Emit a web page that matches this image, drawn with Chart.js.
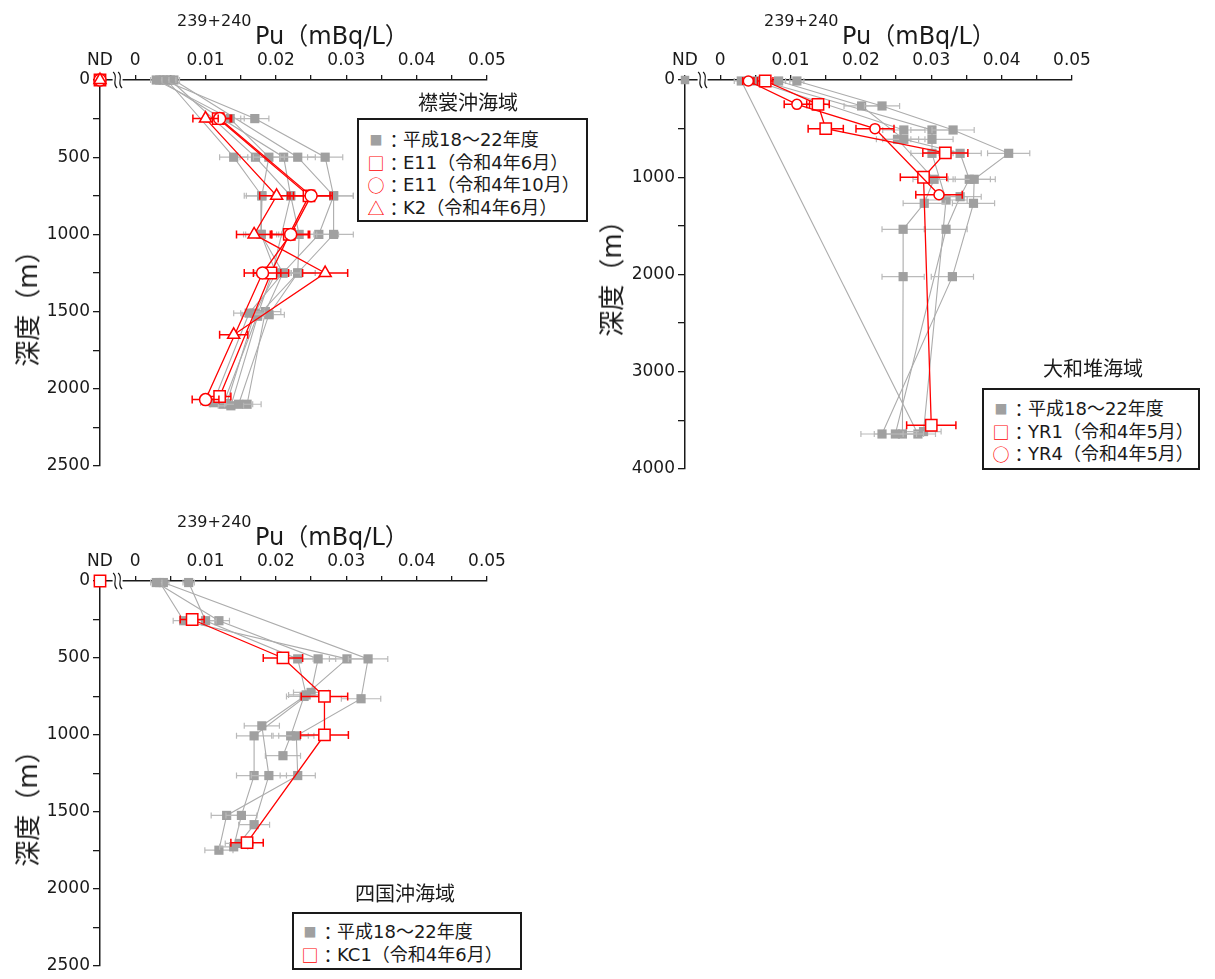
<!DOCTYPE html>
<html><head><meta charset="utf-8">
<script src="https://cdn.jsdelivr.net/npm/chart.js@4.4.0/dist/chart.umd.min.js"></script>
<style>
html,body{margin:0;padding:0;background:#fff;}
body{width:1215px;height:979px;position:relative;overflow:hidden;font-family:'DejaVu Sans','Noto Sans CJK JP',sans-serif;color:#1a1a1a;text-spacing-trim:space-all;}
canvas{position:absolute;}
.t{position:absolute;white-space:nowrap;line-height:1;}
.sup{font-size:16px;}
.pu{font-size:24px;}
.ytitle{position:absolute;font-size:26px;white-space:nowrap;line-height:1;transform:translate(-50%,-50%) rotate(-90deg);}
.region{position:absolute;font-size:20px;line-height:1;white-space:nowrap;font-family:'Noto Sans CJK JP',sans-serif;}
.legend{position:absolute;border:2px solid #1a1a1a;box-sizing:border-box;background:#fff;font-size:18px;}
.row{display:flex;align-items:center;height:22.7px;white-space:nowrap;line-height:22.7px;}
.mk{flex:0 0 18px;text-align:center;font-family:'Noto Sans CJK JP',sans-serif;font-size:17px;line-height:22.7px;}
.cl{flex:0 0 18px;text-align:center;font-family:'Noto Sans CJK JP',sans-serif;line-height:22.7px;}
.g{color:#a0a0a0;font-size:13px;}
.r{color:#ff0000;}
</style>
</head><body>
<canvas id="c1" width="600" height="490" style="left:0;top:0"></canvas>
<canvas id="c2" width="630" height="490" style="left:585px;top:0"></canvas>
<canvas id="c3" width="600" height="479" style="left:0;top:500px"></canvas>

<div class="t sup" style="left:177px;top:13px">239+240</div>
<div class="t pu" style="left:255px;top:24px">Pu（mBq/L）</div>
<div class="t sup" style="left:764px;top:13px">239+240</div>
<div class="t pu" style="left:842px;top:24px">Pu（mBq/L）</div>
<div class="t sup" style="left:177px;top:514px">239+240</div>
<div class="t pu" style="left:255px;top:525px">Pu（mBq/L）</div>

<div class="ytitle" style="left:28px;top:302px">深度（m）</div>
<div class="ytitle" style="left:612px;top:272px">深度（m）</div>
<div class="ytitle" style="left:28px;top:802px">深度（m）</div>

<div class="region" id="r1" style="left:418px;top:92px"></div>
<div class="region" id="r2" style="left:1043px;top:358px"></div>
<div class="region" id="r3" style="left:355px;top:883px"></div>

<div class="legend" style="left:357px;top:118px;width:231px;height:104px;padding:9px 0 0 8px">
  <div class="row"><span class="mk g">■</span><span class="cl">：</span><span>平成18～22年度</span></div>
  <div class="row"><span class="mk r">□</span><span class="cl">：</span><span>E11（令和4年6月）</span></div>
  <div class="row"><span class="mk r">○</span><span class="cl">：</span><span>E11（令和4年10月）</span></div>
  <div class="row"><span class="mk r">△</span><span class="cl">：</span><span>K2（令和4年6月）</span></div>
</div>
<div class="legend" style="left:982px;top:388px;width:218px;height:82px;padding:8px 0 0 8px">
  <div class="row"><span class="mk g">■</span><span class="cl">：</span><span>平成18～22年度</span></div>
  <div class="row"><span class="mk r">□</span><span class="cl">：</span><span>YR1（令和4年5月）</span></div>
  <div class="row"><span class="mk r">○</span><span class="cl">：</span><span>YR4（令和4年5月）</span></div>
</div>
<div class="legend" style="left:292px;top:912px;width:230px;height:58px;padding:7px 0 0 7px">
  <div class="row"><span class="mk g">■</span><span class="cl">：</span><span>平成18～22年度</span></div>
  <div class="row"><span class="mk r">□</span><span class="cl">：</span><span>KC1（令和4年6月）</span></div>
</div>

<script>
// ---------- axis ticks ----------
const ND_X = -0.005;
const xTickValues = [-0.005, 0, 0.005, 0.01, 0.015, 0.02, 0.025, 0.03, 0.035, 0.04, 0.045, 0.05];
const xTickLabels = ['ND', '0', '', '0.01', '', '0.02', '', '0.03', '', '0.04', '', '0.05'];
const y2500Ticks = [0, 250, 500, 750, 1000, 1250, 1500, 1750, 2000, 2250, 2500];
const y2500Labels = ['0', '', '500', '', '1000', '', '1500', '', '2000', '', '2500'];
const y4000Ticks = [0, 500, 1000, 1500, 2000, 2500, 3000, 3500, 4000];
const y4000Labels = ['0', '', '1000', '', '2000', '', '3000', '', '4000'];

const regionNames = ['襟裳沖海域', '大和堆海域', '四国沖海域'];

// ---------- 襟裳沖海域 ----------
const erimoGrayDepth = [
  [0, 250, 500, 750, 1000, 1250, 1510, 2090],
  [0, 250, 500, 750, 1000, 1250, 1520, 2100],
  [0, 500, 750, 1000, 1250, 1530, 2110],
  [0, 500, 750, 1000, 1250, 1500, 2100],
  [0, 500, 750, 1250, 1520, 2100],
  [0, 500, 750, 1000, 1250, 1510, 2095]
];
const erimoGrayPu = [
  [0.0030, 0.0135, 0.0190, 0.0180, 0.0179, 0.0210, 0.0162, 0.0111],
  [0.0040, 0.0170, 0.0270, 0.0282, 0.0282, 0.0231, 0.0190, 0.0147],
  [0.0050, 0.0171, 0.0221, 0.0233, 0.0231, 0.0174, 0.0136],
  [0.0055, 0.0231, 0.0282, 0.0261, 0.0210, 0.0185, 0.0159],
  [0.0035, 0.0211, 0.0221, 0.0195, 0.0174, 0.0125],
  [0.0045, 0.0140, 0.0180, 0.0179, 0.0200, 0.0170, 0.0130]
];
const erimoGrayErr = [
  [0.0008, 0.0020, 0.0022, 0.0025, 0.0025, 0.0025, 0.0022, 0.0018],
  [0.0008, 0.0020, 0.0025, 0.0028, 0.0028, 0.0025, 0.0022, 0.0020],
  [0.0008, 0.0022, 0.0025, 0.0025, 0.0025, 0.0022, 0.0018],
  [0.0008, 0.0025, 0.0028, 0.0028, 0.0025, 0.0022, 0.0020],
  [0.0008, 0.0022, 0.0025, 0.0025, 0.0022, 0.0018],
  [0.0008, 0.0020, 0.0022, 0.0022, 0.0022, 0.0020, 0.0018]
];
const erimoE11JunDepth = [250, 750, 1000, 1250, 2050];
const erimoE11JunPu = [0.0118, 0.0247, 0.0219, 0.0193, 0.0120];
const erimoE11JunErr = [0.0017, 0.0030, 0.0027, 0.0025, 0.0016];
const erimoE11OctDepth = [250, 750, 1000, 1250, 2070];
const erimoE11OctPu = [0.0120, 0.0250, 0.0221, 0.0181, 0.0100];
const erimoE11OctErr = [0.0017, 0.0030, 0.0027, 0.0026, 0.0019];
const erimoK2Depth = [250, 750, 1000, 1250, 1650];
const erimoK2Pu = [0.0100, 0.0201, 0.0169, 0.0270, 0.0140];
const erimoK2Err = [0.0018, 0.0024, 0.0025, 0.0032, 0.0020];

// ---------- 大和堆海域 ----------
const yamatoGrayDepth = [
  [10, 267, 514, 754, 1021, 1268, 2022, 3640],
  [10, 267, 610, 754, 1021, 1200, 1535, 3640],
  [10, 514, 610, 1021, 1268, 1535, 2022, 3640],
  [10, 514, 610, 754, 1234, 3615],
  [10, 3640]
];
const yamatoGrayPu = [
  [0.0109, 0.0230, 0.0331, 0.0410, 0.0361, 0.0360, 0.0330, 0.0230],
  [0.0083, 0.0201, 0.0261, 0.0341, 0.0354, 0.0341, 0.0321, 0.0249],
  [0.0050, 0.0261, 0.0252, 0.0304, 0.0290, 0.0260, 0.0260, 0.0259],
  [0.0060, 0.0301, 0.0301, 0.0301, 0.0321, 0.0289],
  [0.0030, 0.0281]
];
const yamatoGrayErr = [
  [0.0010, 0.0025, 0.0030, 0.0030, 0.0030, 0.0030, 0.0030, 0.0030],
  [0.0010, 0.0025, 0.0030, 0.0030, 0.0030, 0.0030, 0.0030, 0.0030],
  [0.0010, 0.0030, 0.0030, 0.0030, 0.0030, 0.0030, 0.0030, 0.0030],
  [0.0010, 0.0030, 0.0030, 0.0030, 0.0030, 0.0025],
  [0.0010, 0.0025]
];
const yamatoGrayNDDepth = [0];
const yamatoYR1Depth = [10, 250, 500, 750, 1000, 3550];
const yamatoYR1Pu = [0.0064, 0.0139, 0.0150, 0.0320, 0.0289, 0.0300];
const yamatoYR1Err = [0.0011, 0.0016, 0.0025, 0.0032, 0.0033, 0.0035];
const yamatoYR4Depth = [10, 250, 500, 1180];
const yamatoYR4Pu = [0.0040, 0.0109, 0.0220, 0.0311];
const yamatoYR4Err = [0.0008, 0.0018, 0.0027, 0.0033];

// ---------- 四国沖海域 ----------
const shikokuGrayDepth = [
  [10, 258, 506, 740, 941, 1264, 1583, 1705],
  [10, 258, 506, 724, 1006, 1264, 1523, 1727],
  [10, 506, 765, 1006, 1264, 1523, 1749],
  [10, 258, 506, 750, 1006, 1135]
];
const shikokuGrayPu = [
  [0.0076, 0.0100, 0.0231, 0.0243, 0.0180, 0.0190, 0.0169, 0.0148],
  [0.0030, 0.0119, 0.0260, 0.0250, 0.0169, 0.0169, 0.0151, 0.0140],
  [0.0040, 0.0331, 0.0321, 0.0229, 0.0231, 0.0130, 0.0119],
  [0.0035, 0.0069, 0.0301, 0.0240, 0.0221, 0.0210]
];
const shikokuGrayErr = [
  [0.0008, 0.0015, 0.0022, 0.0025, 0.0025, 0.0025, 0.0022, 0.0020],
  [0.0008, 0.0015, 0.0025, 0.0025, 0.0025, 0.0025, 0.0022, 0.0020],
  [0.0008, 0.0028, 0.0028, 0.0025, 0.0025, 0.0022, 0.0020],
  [0.0008, 0.0015, 0.0025, 0.0025, 0.0025, 0.0025]
];
const shikokuKC1Depth = [250, 500, 750, 1000, 1700];
const shikokuKC1Pu = [0.0081, 0.0210, 0.0269, 0.0269, 0.0159];
const shikokuKC1Err = [0.0017, 0.0028, 0.0033, 0.0034, 0.0023];

// ---------- styling & helpers ----------
const FONT = "'DejaVu Sans','Noto Sans CJK JP',sans-serif";
const INK = '#1a1a1a';
const RED = '#ff0000';
const GRAY_PT = '#a0a0a0';
const GRAY_LN = '#acacac';

function pts(xs, ys) { return xs.map((x, i) => ({ x: x, y: ys[i] })); }

function grayProfiles(depths, pus, errs) {
  return depths.map((d, k) => ({
    data: pts(pus[k], d), errors: errs[k], errColor: '#bababa', errWidth: 1.2, cap: 3,
    showLine: true, borderColor: GRAY_LN, borderWidth: 1.1, tension: 0,
    pointStyle: 'rect', pointRadius: 6.5, pointBackgroundColor: GRAY_PT, pointBorderWidth: 0,
    clip: false
  }));
}
function redSeries(pu, depth, err, style, radius) {
  return {
    data: pts(pu, depth), errors: err, errColor: RED, errWidth: 1.5, cap: 4,
    showLine: true, borderColor: RED, borderWidth: 1.3, tension: 0,
    pointStyle: style, pointRadius: radius, pointBackgroundColor: '#ffffff',
    pointBorderColor: RED, pointBorderWidth: 1.5, clip: false
  };
}
function ndPoint(depth, style, radius, fill, stroke) {
  return {
    data: depth.map(d => ({ x: ND_X, y: d })), showLine: false,
    pointStyle: style, pointRadius: radius, pointBackgroundColor: fill,
    pointBorderColor: stroke, pointBorderWidth: stroke ? 1.5 : 0, clip: false
  };
}

const errorBarPlugin = {
  id: 'errorBars',
  beforeDatasetDraw(chart, args) {
    const ds = chart.data.datasets[args.index];
    if (!ds.errors) return;
    const ctx = chart.ctx, xs = chart.scales.x, ys = chart.scales.y;
    ctx.save();
    ctx.strokeStyle = ds.errColor;
    ctx.lineWidth = ds.errWidth;
    ds.data.forEach((p, i) => {
      const e = ds.errors[i];
      if (!e) return;
      const y = ys.getPixelForValue(p.y);
      const x1 = xs.getPixelForValue(p.x - e), x2 = xs.getPixelForValue(p.x + e);
      ctx.beginPath();
      ctx.moveTo(x1, y); ctx.lineTo(x2, y);
      ctx.moveTo(x1, y - ds.cap); ctx.lineTo(x1, y + ds.cap);
      ctx.moveTo(x2, y - ds.cap); ctx.lineTo(x2, y + ds.cap);
      ctx.stroke();
    });
    ctx.restore();
  }
};

const axisBreakPlugin = {
  id: 'axisBreak',
  afterDraw(chart) {
    const ctx = chart.ctx, xs = chart.scales.x;
    const y = chart.chartArea.top;
    const cx = xs.getPixelForValue(-0.0025);
    ctx.save();
    ctx.fillStyle = '#ffffff';
    ctx.fillRect(cx - 5, y - 3, 10, 6);
    ctx.strokeStyle = INK;
    ctx.lineWidth = 1.2;
    [-2.5, 2.5].forEach(o => {
      const x = cx + o;
      ctx.beginPath();
      ctx.moveTo(x - 2, y - 8);
      ctx.bezierCurveTo(x + 4, y - 3, x - 4, y + 3, x + 2, y + 8);
      ctx.stroke();
    });
    ctx.restore();
  }
};

function makeChart(id, datasets, yMax, yTicks, yLabels, padding, xAxisH, yAxisW) {
  return new Chart(document.getElementById(id), {
    type: 'scatter',
    data: { datasets: datasets },
    options: {
      responsive: false, animation: false, events: [],
      layout: { padding: padding },
      plugins: { legend: { display: false }, tooltip: { enabled: false } },
      scales: {
        x: {
          type: 'linear', position: 'top', min: ND_X, max: 0.05,
          afterFit: s => { s.height = xAxisH; },
          afterBuildTicks: s => { s.ticks = xTickValues.map(v => ({ value: v })); },
          ticks: { autoSkip: false, maxRotation: 0, minRotation: 0, padding: 4, color: INK,
                   font: { family: FONT, size: 17 }, callback: (v, i) => xTickLabels[i] },
          grid: { drawOnChartArea: false, drawTicks: true, tickLength: 5, color: INK, lineWidth: 1.3 },
          border: { display: true, color: INK, width: 1.5 }
        },
        y: {
          type: 'linear', position: 'left', reverse: true, min: 0, max: yMax,
          afterFit: s => { s.width = yAxisW; },
          afterBuildTicks: s => { s.ticks = yTicks.map(v => ({ value: v })); },
          ticks: { autoSkip: false, padding: 3, color: INK,
                   font: { family: FONT, size: 17 }, callback: (v, i) => yLabels[i] },
          grid: { drawOnChartArea: false, drawTicks: true, tickLength: 7, color: INK, lineWidth: 1.3 },
          border: { display: true, color: INK, width: 1.5 }
        }
      }
    },
    plugins: [errorBarPlugin, axisBreakPlugin]
  });
}

document.getElementById('r1').textContent = regionNames[0];
document.getElementById('r2').textContent = regionNames[1];
document.getElementById('r3').textContent = regionNames[2];

// Panel 1
makeChart('c1', [
  ndPoint([0], 'triangle', 7, '#ffffff', RED),
  ndPoint([0], 'circle', 6, '#ffffff', RED),
  ndPoint([0], 'rect', 8, '#ffffff', RED),
  redSeries(erimoK2Pu, erimoK2Depth, erimoK2Err, 'triangle', 7),
  redSeries(erimoE11OctPu, erimoE11OctDepth, erimoE11OctErr, 'circle', 6),
  redSeries(erimoE11JunPu, erimoE11JunDepth, erimoE11JunErr, 'rect', 8),
  ...grayProfiles(erimoGrayDepth, erimoGrayPu, erimoGrayErr)
], 2500, y2500Ticks, y2500Labels, { left: 0, top: 0, right: 113, bottom: 24 }, 80, 100);

// Panel 2
makeChart('c2', [
  redSeries(yamatoYR4Pu, yamatoYR4Depth, yamatoYR4Err, 'circle', 5),
  redSeries(yamatoYR1Pu, yamatoYR1Depth, yamatoYR1Err, 'rect', 8),
  ndPoint(yamatoGrayNDDepth, 'rect', 6, GRAY_PT, null),
  ...grayProfiles(yamatoGrayDepth, yamatoGrayPu, yamatoGrayErr)
], 4000, y4000Ticks, y4000Labels, { left: 0, top: 0, right: 143, bottom: 21 }, 80, 100);

// Panel 3
makeChart('c3', [
  ndPoint([0], 'rect', 8, '#ffffff', RED),
  redSeries(shikokuKC1Pu, shikokuKC1Depth, shikokuKC1Err, 'rect', 8),
  ...grayProfiles(shikokuGrayDepth, shikokuGrayPu, shikokuGrayErr)
], 2500, y2500Ticks, y2500Labels, { left: 0, top: 0, right: 113, bottom: 11 }, 81, 100);
</script>
</body></html>
